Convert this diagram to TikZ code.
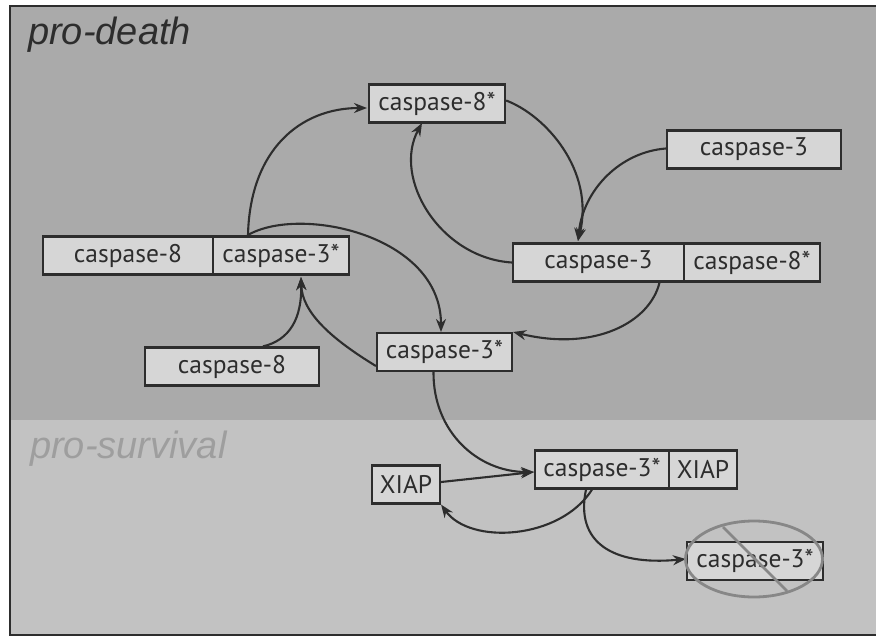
\documentclass[tikz,border=0pt]{standalone}
\usepackage{fontspec}
\setmainfont{PT Sans}
\newfontfamily\labelfont{Liberation Sans}
\usetikzlibrary{arrows.meta,shapes.geometric}
\definecolor{deathbg}{RGB}{170,170,170}
\definecolor{survbg}{RGB}{194,194,194}
\definecolor{boxfill}{RGB}{214,214,214}
\definecolor{ink}{RGB}{45,45,45}
\definecolor{crossgray}{RGB}{135,135,135}
\definecolor{survtext}{RGB}{158,158,158}
\tikzset{
  mol/.style={draw=ink, line width=2.2pt, fill=boxfill, text=ink, inner sep=0pt,
    minimum height=38pt, font=\fontsize{25.5}{28}\selectfont},
  conn/.style={draw=ink, line width=2.1pt, -{Stealth[length=13pt,width=10pt]}},
  region/.style={font=\labelfont\itshape\fontsize{38}{42}\selectfont, anchor=base west, inner sep=0pt},
}
\begin{document}
\begin{tikzpicture}[x=1pt,y=-1pt]
\useasboundingbox (0,0) rectangle (876,637);
\fill[white] (0,0) rectangle (876,637);
\fill[deathbg] (10,6) rectangle (876,420);
\fill[survbg] (10,420) rectangle (876,635);
\draw[ink, line width=2.2pt] (876,6) -- (10,6) -- (10,635) -- (876,635);
\node[region, text=ink] (tdeath) at (28,44) {pro-death};
\node[region, text=survtext] (tsurv) at (30,458) {pro-survival};

% boxes
\node[mol, minimum width=136pt] (c8s) at (437,103.5) {caspase-8*};
\node[mol, minimum width=174pt] (c3top) at (754,149.5) {caspase-3};
\node[mol, minimum width=171pt] (p3a) at (598.5,262.5) {caspase-3};
\node[mol, minimum width=136pt] (p3b) at (752,262.5) {caspase-8*};
\node[mol, minimum width=170pt] (p4a) at (128,255.5) {caspase-8};
\node[mol, minimum width=136pt] (p4b) at (281,255.5) {caspase-3*};
\node[mol, minimum width=174pt] (c8low) at (232,366.5) {caspase-8};
\node[mol, minimum width=135pt] (c3mid) at (444.5,352) {caspase-3*};
\node[mol, minimum width=68pt] (xiapL) at (406,484.5) {XIAP};
\node[mol, minimum width=134pt] (p8a) at (602,469.5) {caspase-3*};
\node[mol, minimum width=68pt] (p8b) at (703,469.5) {XIAP};
\node[mol, minimum width=136pt] (c3x) at (755,561) {caspase-3*};

% connection points
\coordinate (s1) at (248,235);
\coordinate (c8sin) at (367,108);
\coordinate (c8sbot) at (422,123);
\coordinate (p3in) at (578,241);
\coordinate (p4in) at (301,277);
\coordinate (c3midin) at (441,332);
\coordinate (p8in) at (534,472);

% arrows
\draw[conn] (s1) .. controls (250,150) and (300,108) .. (c8sin);
\draw[conn] (s1) .. controls (300,205) and (441,235) .. (c3midin);
\draw[conn] ([yshift=3pt]c8s.east) .. controls (545,115) and (595,170) .. (p3in);
\draw[conn] ([yshift=1pt]c3top.west) .. controls (620,152) and (583,190) .. (p3in);
\draw[conn] (p3a.west) .. controls (440,258) and (392,178) .. (c8sbot);
\draw[conn] ([xshift=61pt]p3a.south) .. controls (650,322) and (595,352) .. (c3midin -| c3mid.east);
\draw[conn] ([xshift=31pt]c8low.north) .. controls (290,340) and (302,318) .. (p4in);
\draw[conn] ([yshift=-14pt]c3mid.west) .. controls (330,338) and (302,312) .. (p4in);
\draw[conn] ([xshift=-11pt]c3mid.south) .. controls (433,432) and (478,472) .. (p8in);
\draw[conn] ([yshift=2.5pt]xiapL.east) -- (p8in);
\draw[conn] ([xshift=-10pt]p8a.south) .. controls (560,540) and (470,545) .. (xiapL.south east);
\draw[conn] ([xshift=-16pt]p8a.south) .. controls (575,542) and (612,566) .. ([yshift=2pt]c3x.west);

% cross-out
\node[draw=crossgray, line width=2.8pt, ellipse, minimum width=137pt, minimum height=76pt, inner sep=0pt] (xell) at (754,559) {};
\coordinate (xa) at (723,527);
\coordinate (xb) at (787,591);
\draw[crossgray, line width=2.8pt] (xa) -- (xb);
\end{tikzpicture}
\end{document}
